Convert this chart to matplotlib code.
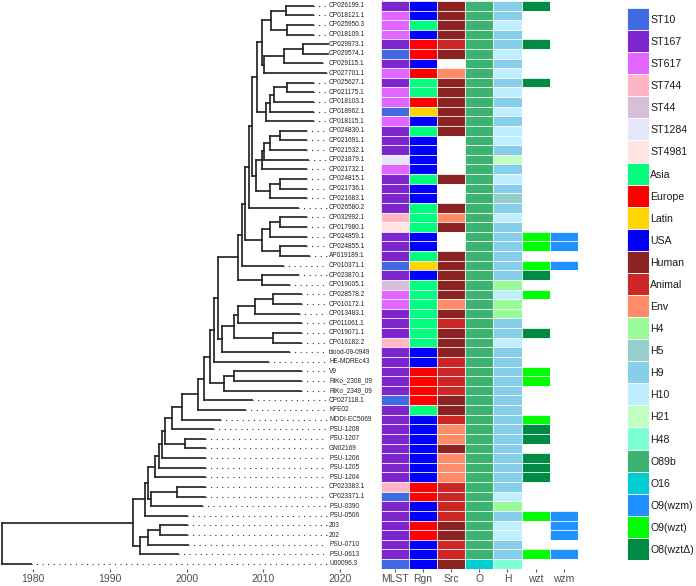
import matplotlib
matplotlib.use("Agg")
import matplotlib.pyplot as plt

plt.rcParams['font.family'] = ['Liberation Sans', 'DejaVu Sans']

# tip labels, top to bottom
tip_labels = ["CP026199.1", "CP018121.1", "CP025950.3", "CP018109.1", "CP029973.1",
              "CP029574.1", "CP029115.1", "CP027701.1", "CP025627.1", "CP021175.1",
              "CP018103.1", "CP018962.1", "CP018115.1", "CP024830.1", "CP021691.1",
              "CP021532.1", "CP021879.1", "CP021732.1", "CP024815.1", "CP021736.1",
              "CP021683.1", "CP026580.2", "CP032992.1", "CP017980.1", "CP024859.1",
              "CP024855.1", "AP019189.1", "CP010371.1", "CP023870.1", "CP019005.1",
              "CP028578.2", "CP010172.1", "CP013483.1", "CP011061.1", "CP019071.1",
              "CP016182.2", "blood-09-0949", "HE-MDREc43", "V9", "RiKo_2308_09",
              "RiKo_2349_09", "CP027118.1", "KFE02", "MODI-EC5069", "PSU-1208",
              "PSU-1207", "GN02169", "PSU-1206", "PSU-1205", "PSU-1204",
              "CP023383.1", "CP023371.1", "PSU-0390", "PSU-0506", "203",
              "202", "PSU-0710", "PSU-0613", "U00096.3"]

# tip dates (years)
tip_years = [2016.5, 2016.5, 2016.5, 2016.5, 2018.4, 2018.4, 2017.7, 2018.2, 2016.5, 2016.5,
             2016.5, 2016.5, 2016.5, 2015.5, 2015.5, 2015.5, 2015.8, 2015.5, 2015.5, 2015.5,
             2015.5, 2014.5, 2015.5, 2015.5, 2015.5, 2015.5, 2015.9, 2012.6, 2014.5, 2013.3,
             2014.9, 2014.9, 2014.6, 2014.9, 2014.9, 2014.9, 2013.3, 2010.6, 2014.9, 2014.9,
             2014.9, 2008.5, 2007.6, 2004.4, 2003.4, 2002.4, 2002.4, 2002.4, 2002.4, 2002.4,
             2002.4, 2002.4, 2002.0, 2000.0, 2000.0, 2000.0, 2000.2, 1998.8, 1979.7]

# tree topology: tips are row indices, each internal node followed by its date
tree_newick = ("(" * 23
               + "(0,1)2013.0,(2,3)2013.1)2011.0"
               + ",(((4,5)2015.1,6)2012.7,7)2010.1)2009.8"
               + ",((((8,9)2013.1,10)2011.4,11)2010.8,12)2010.4)2009.1"
               + ",(((((13,14)2012.1,15)2010.8,16)2010.1,17)2009.8,((18,19)2012.1,20)2010.8)2009.0)2008.5"
               + ",21)2008.1"
               + ",(((22,23)2012.1,24)2010.8,(25,26)2012.1)2009.8)2007.6"
               + ",27)2007.2"
               + ",(28,29)2009.8)2006.7"
               + ",(((((30,31)2011.2,32)2008.9,33)2006.7,(34,35)2011.3)2006.2,36)2004.6)2004.1"
               + ",37)2003.5"
               + ",((38,39)2006.2,40)2004.9)2003.0"
               + ",41)2002.3,42)2001.5,43)1999.4,44)1998.1,(45,46)1999.8)1997.2"
               + ",47)1996.8,48)1996.4,49)1995.9"
               + ",((50,51)1998.7,52)1995.4)1995.0"
               + ",53)1994.5"
               + ",(((54,55)1996.5,56)1995.0,57)1993.9)1993.0"
               + ",58)1975.9")

mlst = ["ST167", "ST617", "ST617", "ST617", "ST167", "ST10", "ST167", "ST617", "ST167", "ST617",
        "ST617", "ST10", "ST617", "ST167", "ST167", "ST167", "ST1284", "ST617", "ST167", "ST167",
        "ST167", "ST167", "ST744", "ST4981", "ST167", "ST167", "ST167", "ST10", "ST167", "ST44",
        "ST617", "ST617", "ST167", "ST167", "ST167", "ST744", "ST167", "ST167", "ST167", "ST167",
        "ST167", "ST10", "ST167", "ST167", "ST167", "ST167", "ST167", "ST167", "ST167", "ST167",
        "ST744", "ST10", "ST167", "ST167", "ST167", "ST167", "ST167", "ST167", "ST10"]

region = ["USA", "USA", "Asia", "USA", "Europe", "Europe", "USA", "Europe", "Asia", "Asia",
          "Europe", "Latin", "USA", "Asia", "USA", "USA", "USA", "USA", "Asia", "USA",
          "USA", "Asia", "Asia", "Asia", "USA", "USA", "Asia", "Latin", "USA", "Asia",
          "Asia", "Asia", "Asia", "Asia", "Asia", "Asia", "USA", "USA", "Europe", "Europe",
          "Europe", "Europe", "Asia", "USA", "USA", "USA", "USA", "USA", "USA", "USA",
          "Europe", "Europe", "USA", "USA", "Europe", "Europe", "USA", "USA", "USA"]

source = ["Human", "Human", "Human", "Human", "Animal", "Human", "", "Env", "Human", "Human",
          "Human", "Human", "Human", "Human", "", "", "", "", "Human", "",
          "", "Human", "Env", "Human", "", "", "Human", "Human", "Human", "Human",
          "Human", "Env", "Human", "Animal", "Human", "Human", "Human", "Animal", "Animal", "Animal",
          "Animal", "Human", "Human", "Animal", "Env", "Env", "Human", "Env", "Env", "Env",
          "Animal", "Animal", "Animal", "Animal", "Human", "Human", "Animal", "Animal", "Human"]

o_type = ["O89b"] * 58 + ["O16"]

h_type = ["H9", "H9", "H10", "H9", "H9", "H10", "H9", "H10", "H9", "H10",
          "H9", "H10", "H9", "H10", "H10", "H9", "H21", "H9", "H10", "H9",
          "H5", "H9", "H10", "H9", "H9", "H9", "H9", "H9", "H9", "H4",
          "H10", "H4", "H4", "H9", "H9", "H10", "H9", "H9", "H9", "H9",
          "H9", "H9", "H9", "H9", "H9", "H9", "H9", "H9", "H9", "H9",
          "H9", "H10", "H4", "H9", "H10", "H10", "H9", "H9", "H48"]

wzt = ["O8(wztΔ)", "", "", "", "O8(wztΔ)", "", "", "", "O8(wztΔ)", "",
       "", "", "", "", "", "", "", "", "", "",
       "", "", "", "", "O9(wzt)", "O9(wzt)", "", "O9(wzt)", "O8(wztΔ)", "",
       "O9(wzt)", "", "", "", "O8(wztΔ)", "", "", "", "O9(wzt)", "O9(wzt)",
       "", "", "", "O9(wzt)", "O8(wztΔ)", "O8(wztΔ)", "", "O8(wztΔ)", "O8(wztΔ)", "O8(wztΔ)",
       "", "", "", "O9(wzt)", "", "", "", "O9(wzt)", ""]

wzm = [""] * 24 + ["O9(wzm)", "O9(wzm)", "", "O9(wzm)"] + [""] * 25 + \
      ["O9(wzm)", "O9(wzm)", "O9(wzm)", "", "O9(wzm)", ""]

columns = ["MLST", "Rgn", "Src", "O", "H", "wzt", "wzm"]

legend_names = ["ST10", "ST167", "ST617", "ST744", "ST44", "ST1284", "ST4981",
                "Asia", "Europe", "Latin", "USA", "Human", "Animal", "Env",
                "H4", "H5", "H9", "H10", "H21", "H48",
                "O89b", "O16", "O9(wzm)", "O9(wzt)", "O8(wztΔ)"]
legend_colors = ["#4169E1", "#7D26CD", "#E066FF", "#FFB5C5", "#D8BFD8", "#E6E6FA", "#FFE4E1",
                 "#00FF7F", "#FF0000", "#FFD700", "#0000FF", "#8B2323", "#CD2626", "#FF8C69",
                 "#98FB98", "#96CDCD", "#87CEEB", "#BFEFFF", "#C1FFC1", "#7FFFD4",
                 "#3CB371", "#00CED1", "#1E90FF", "#00FF00", "#008B45"]
palette = dict(zip(legend_names, legend_colors))


def parse(s, i=0):
    # tiny newick reader: returns (date, [children]) or a tip index
    if s[i] == '(':
        kids = []
        i += 1
        while True:
            node, i = parse(s, i)
            kids.append(node)
            if s[i] == ',':
                i += 1
            else:
                i += 1
                break
        j = i
        while j < len(s) and s[j] not in ',)':
            j += 1
        return (float(s[i:j]), kids), j
    j = i
    while j < len(s) and s[j] not in ',)':
        j += 1
    return int(s[i:j]), j


tree, end = parse(tree_newick)
assert end == len(tree_newick)

fig = plt.figure(figsize=(6.96, 5.86), dpi=100)
bottom, height = 0.0295, 0.969
tax = fig.add_axes([0.0, bottom, 0.546, height])
hax = fig.add_axes([0.5472, bottom, 0.2830, height])
lax = fig.add_axes([0.9009, 0.0444, 0.0316, 0.942])

line_col = '#262626'
lw = 1.25


def draw(node):
    if isinstance(node, int):
        return tip_years[node], node
    x, kids = node
    ys = []
    for k in kids:
        cx, cy = draw(k)
        tax.plot([x, cx], [cy, cy], color=line_col, lw=lw, solid_capstyle='projecting')
        ys.append(cy)
    tax.plot([x, x], [min(ys), max(ys)], color=line_col, lw=lw, solid_capstyle='projecting')
    return x, sum(ys) / len(ys)


draw(tree)

LABEL_X = 2018.55
for i, name in enumerate(tip_labels):
    if tip_years[i] < LABEL_X - 0.3:
        tax.plot([tip_years[i], LABEL_X - 0.25], [i, i], color='#333333', lw=0.8,
                 linestyle=(0, (1, 4)))
    tax.text(LABEL_X, i, name, fontsize=4.7, va='center', ha='left', color='#222222')

tax.set_xlim(1975.66, 2025.2)
tax.set_ylim(len(tip_labels) - 0.5, -0.5)
tax.set_xticks([1980, 1990, 2000, 2010, 2020])
tax.set_yticks([])
for sp in tax.spines.values():
    sp.set_visible(False)
tax.tick_params(axis='x', length=2.5, width=0.8, color='#555555', labelsize=7.5,
                labelcolor='#4d4d4d', pad=1.5)
tax.patch.set_alpha(0)

# heatmap columns
col_data = [mlst, region, source, o_type, h_type, wzt, wzm]
rows = list(range(len(tip_labels)))
for c, vals in enumerate(col_data):
    cols = [palette[v] if v else 'white' for v in vals]
    hax.bar([c] * len(vals), [1] * len(vals), bottom=[r - 0.5 for r in rows], width=1,
            color=cols, edgecolor='white', linewidth=0.5)
hax.set_xlim(-0.5, len(columns) - 0.5)
hax.set_ylim(len(tip_labels) - 0.5, -0.5)
hax.set_xticks(range(len(columns)))
hax.set_xticklabels(columns)
hax.set_yticks([])
for sp in hax.spines.values():
    sp.set_visible(False)
hax.tick_params(axis='x', length=2.5, width=0.8, color='#555555', labelsize=7.5,
                labelcolor='#4d4d4d', pad=1.5)

# legend strip
lax.barh(range(len(legend_names)), [1] * len(legend_names), height=1, left=0,
         color=legend_colors, edgecolor='white', linewidth=0.6)
lax.set_xlim(0, 1)
lax.set_ylim(len(legend_names) - 0.5, -0.5)
lax.set_xticks([])
lax.yaxis.tick_right()
lax.set_yticks(range(len(legend_names)))
lax.set_yticklabels(legend_names)
lax.tick_params(axis='y', length=0, pad=0.8, labelsize=7.6, labelcolor='#1a1a1a')
for sp in lax.spines.values():
    sp.set_visible(False)

fig.savefig('out.png', dpi=100)
